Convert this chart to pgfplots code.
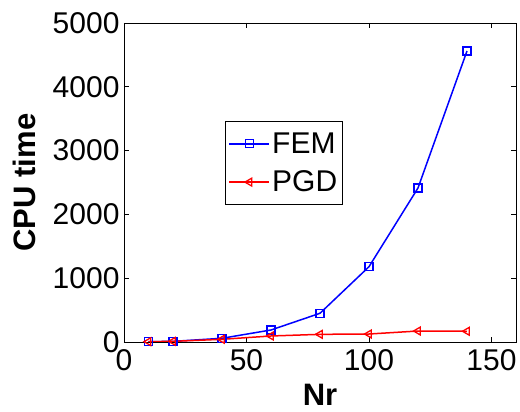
\documentclass[border=0pt]{standalone}
\usepackage{pgfplots}
\pgfplotsset{compat=1.18}
\usepackage{fontspec}
\setmainfont{Liberation Sans}
\begin{document}
\begin{tikzpicture}
\begin{axis}[
  name=ax,
  scale only axis,
  width=392pt, height=319pt,
  xmin=0, xmax=160, ymin=0, ymax=5000,
  xtick={0,50,100,150}, ytick={0,1000,2000,3000,4000,5000},
  tick align=inside, major tick length=5pt,
  scaled y ticks=false,
  /pgf/number format/assume math mode=true,
  /pgf/number format/1000 sep={},
  tick label style={font=\fontsize{30}{32}\selectfont},
  xticklabel style={yshift=-4pt},
  yticklabel style={xshift=-1pt},
  xlabel={\textbf{Nr}}, ylabel={\textbf{CPU time}},
  label style={font=\fontsize{31}{33}\selectfont},
  xlabel style={at={(0.5,0)}, anchor=base, yshift=-64pt},
  ylabel style={yshift=10pt},
  axis line style={black, line width=0.8pt},
  every tick/.style={black, line width=0.8pt},
  legend style={at={(0.408,0.561)}, anchor=center, draw=black, line width=0.8pt,
    font=\fontsize{30}{32}\selectfont, row sep=12pt, inner xsep=3pt, inner ysep=9pt},
  legend image code/.code={\draw[mark repeat=2,mark phase=2,#1] plot coordinates {(0pt,0pt) (20pt,0pt) (40pt,0pt)};},
  legend cell align=left,
]
\addplot[blue, line width=1.5pt, mark=square, mark size=4pt, mark options={line width=1.3pt}]
  coordinates {(10,5) (20,10) (40,58) (60,188) (80,450) (100,1180) (120,2414) (140,4561)};
\addlegendentry{FEM}
\addplot[red, line width=1.5pt, mark=triangle, mark size=4.5pt, mark options={rotate=90, line width=1.3pt}]
  coordinates {(10,5) (20,10) (40,42) (60,94) (80,120) (100,125) (120,172) (140,168)};
\addlegendentry{PGD}
\end{axis}
\pgfresetboundingbox
\path ([xshift=-124pt,yshift=-70pt]ax.south west) rectangle ([xshift=4pt,yshift=23pt]ax.north east);
\end{tikzpicture}
\end{document}
